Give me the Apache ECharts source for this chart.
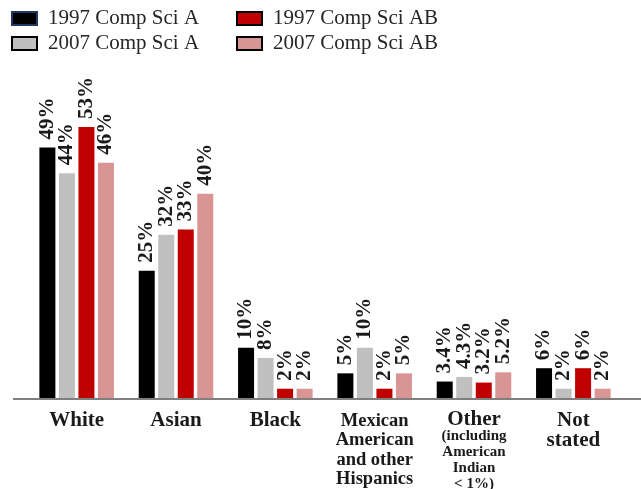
<!DOCTYPE html>
<html>
<head>
<meta charset="utf-8">
<script src="https://cdn.jsdelivr.net/npm/echarts@6/dist/echarts.min.js"></script>
<style>
  html, body { margin: 0; padding: 0; background: #fff; }
  #chart { width: 641px; height: 489px; }
</style>
</head>
<body>
<div id="chart"></div>
<script>
// Category labels (main line + optional smaller note)
const categories = ['White', 'Asian', 'Black', 'Mexican\nAmerican\nand other\nHispanics', 'Other', 'Not\nstated'];
const categoryNotes = ['', '', '', '', '(including\nAmerican\nIndian\n< 1%)', ''];

// Percent of test takers by group
const seriesNames = ['1997 Comp Sci A', '2007 Comp Sci A', '1997 Comp Sci AB', '2007 Comp Sci AB'];
const compSciA1997 = [49, 25, 10, 5, 3.4, 6];
const compSciA2007 = [44, 32, 8, 10, 4.3, 2];
const compSciAB1997 = [53, 33, 2, 2, 3.2, 6];
const compSciAB2007 = [46, 40, 2, 5, 5.2, 2];

const seriesValues = [compSciA1997, compSciA2007, compSciAB1997, compSciAB2007];
const colors = ['#000000', '#c0c0c0', '#c00000', '#d99594'];
const legendBorders = ['#1f3864', '#000000', '#000000', '#000000'];

const serif = '"Liberation Serif", "Times New Roman", serif';

const chart = echarts.init(document.getElementById('chart'), null, { renderer: 'canvas' });

const labelStyle = {
  show: true,
  position: 'top',
  rotate: 90,
  align: 'left',
  verticalAlign: 'middle',
  distance: 8,
  fontFamily: serif,
  fontWeight: 'bold',
  fontSize: 21,
  color: '#1a1a1a',
  formatter: p => p.value + '%'
};

const series = seriesNames.map((name, i) => ({
  name: name,
  type: 'bar',
  data: seriesValues[i],
  barWidth: 16,
  barGap: '22%',
  itemStyle: { color: colors[i] },
  label: labelStyle,
  emphasis: { disabled: true }
}));

function legendData(idx) {
  return idx.map(i => ({
    name: seriesNames[i],
    itemStyle: { color: colors[i], borderColor: legendBorders[i], borderWidth: 2 }
  }));
}

const legendCommon = {
  orient: 'vertical',
  top: 3,
  itemWidth: 25,
  itemHeight: 13,
  itemGap: 4,
  icon: 'rect',
  textStyle: { fontFamily: serif, fontSize: 21, lineHeight: 21, color: '#262626', padding: [0, 0, 0, 6] }
};

const option = {
  animation: false,
  backgroundColor: '#ffffff',
  color: colors,
  legend: [
    Object.assign({}, legendCommon, { left: 6, data: legendData([0, 1]) }),
    Object.assign({}, legendCommon, { left: 231, data: legendData([2, 3]) })
  ],
  grid: { left: 27, right: 18, top: 91, bottom: 90, containLabel: false, outerBoundsMode: 'none' },
  xAxis: {
    type: 'category',
    data: categories,
    axisLine: { show: false },
    axisTick: { show: false },
    axisLabel: {
      interval: 0,
      margin: 12,
      formatter: (val) => {
        const idx = categories.indexOf(val);
        let style = 'big';
        if (idx === 3) style = 'mid';
        else if (categoryNotes[idx]) style = 'head';
        let s = '{' + style + '|' + val + '}';
        if (categoryNotes[idx]) s += '\n{note|' + categoryNotes[idx] + '}';
        return s;
      },
      rich: {
        big: { fontFamily: serif, fontWeight: 'bold', fontSize: 21, lineHeight: 20, color: '#1a1a1a' },
        head: { fontFamily: serif, fontWeight: 'bold', fontSize: 21, lineHeight: 17, color: '#1a1a1a' },
        mid: { fontFamily: serif, fontWeight: 'bold', fontSize: 18.5, lineHeight: 19.5, color: '#1a1a1a' },
        note: { fontFamily: serif, fontWeight: 'bold', fontSize: 15, lineHeight: 16, color: '#1a1a1a' }
      }
    }
  },
  yAxis: {
    type: 'value',
    min: 0,
    max: 60,
    show: false,
    splitLine: { show: false }
  },
  graphic: [{
    type: 'line',
    shape: { x1: 13, y1: 399, x2: 641, y2: 399 },
    style: { stroke: '#7f7f7f', lineWidth: 2 },
    z: 10
  }],
  series: series
};

chart.setOption(option);
</script>
</body>
</html>
